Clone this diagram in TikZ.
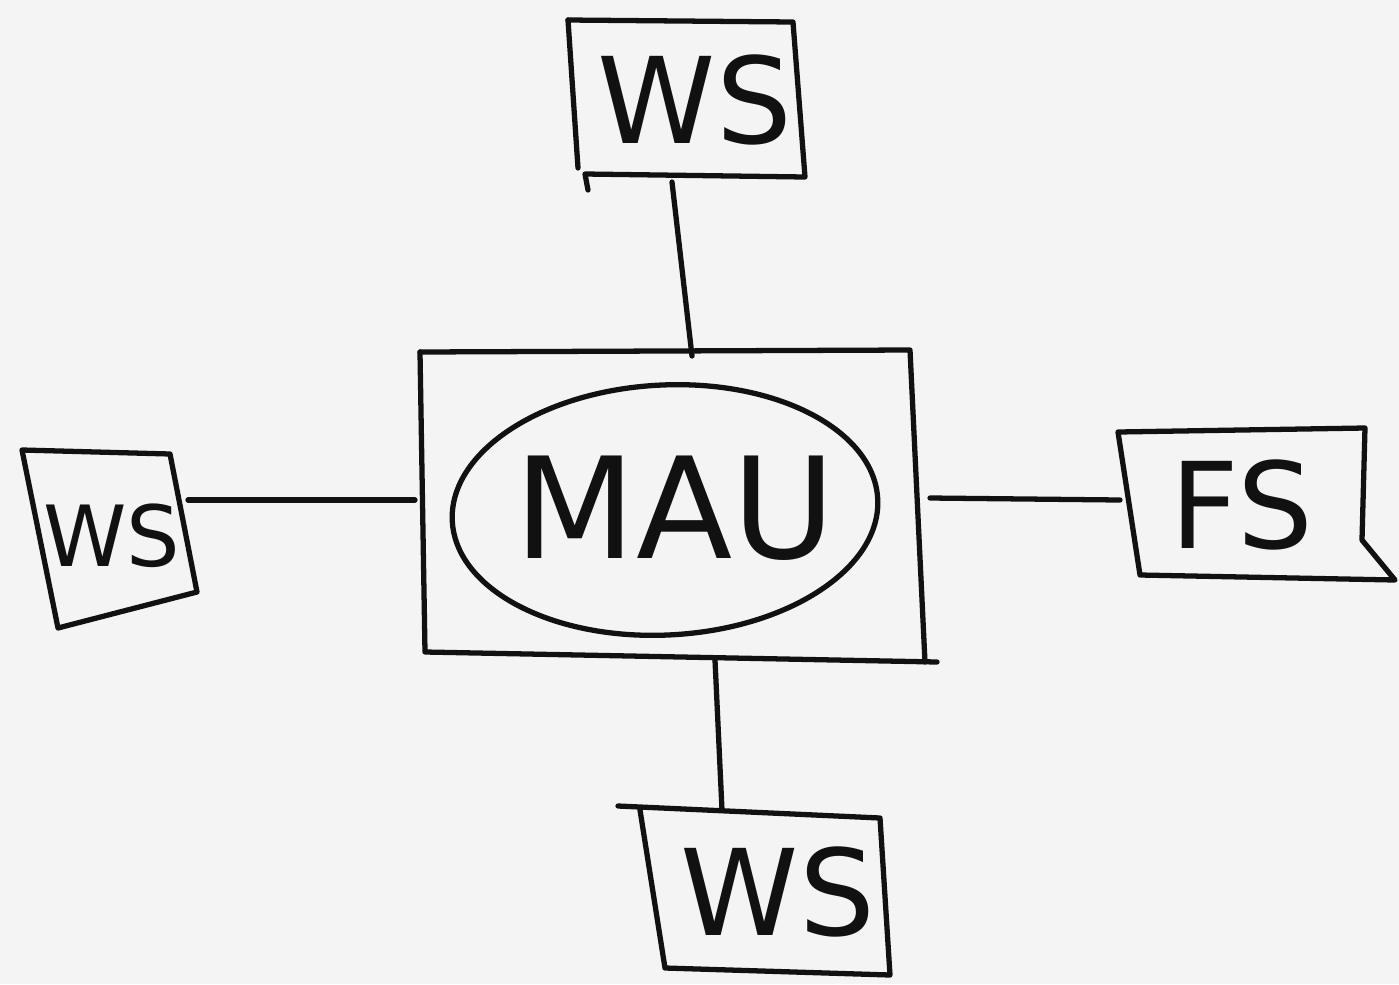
\documentclass[tikz,border=0pt]{standalone}
\usepackage{fontspec}
\setmainfont{DejaVu Sans}
\definecolor{paper}{HTML}{F4F4F4}
\definecolor{ink}{HTML}{111111}
\tikzset{
  pen/.style={draw=ink, line width=1.5pt, line join=round, line cap=round},
  big/.style={font=\fontsize{34}{40}\selectfont, text=ink, inner sep=0pt},
  wire/.style={pen}
}
\begin{document}
\begin{tikzpicture}[x=0.01cm, y=-0.01cm]
  \fill[paper] (0,0) rectangle (1399,984);
  \useasboundingbox (0,0) rectangle (1399,984);

  % top workstation
  \draw[pen] (568,20) -- (793,22) -- (805,177) -- (585,174) -- (588,190);
  \draw[pen] (568,20) -- (578,168);
  \node[big] (wsTop) at (695,100) {WS};

  % multistation access unit
  \draw[pen] (420,352) -- (910,350) -- (925,662);
  \draw[pen] (420,352) -- (425,652) -- (937,662);
  \draw[pen, rotate around={3:(665,510)}] (665,510) ellipse [x radius=213, y radius=125];
  \node[big, font=\fontsize{40}{44}\selectfont] (mau) at (675,508) {MAU};

  % left workstation
  \draw[pen] (22,450) -- (170,454) -- (197,592) -- (58,628) -- cycle;
  \node[big, font=\fontsize{24}{28}\selectfont] (wsLeft) at (112,536) {WS};

  % file server
  \draw[pen] (1118,432) -- (1365,428) -- (1362,540) -- (1395,580) -- (1140,575) -- cycle;
  \node[big] (fs) at (1242,505) {FS};

  % bottom workstation
  \draw[pen] (618,806) -- (880,818) -- (890,975) -- (665,968) -- (640,810);
  \node[big] (wsBot) at (778,892) {WS};

  % attachment points
  \coordinate (topA) at (672,182);
  \coordinate (topB) at (692,356);
  \coordinate (leftA) at (188,500);
  \coordinate (leftB) at (415,500);
  \coordinate (rightA) at (930,498);
  \coordinate (rightB) at (1120,500);
  \coordinate (botA) at (715,660);
  \coordinate (botB) at (722,810);

  \draw[wire] (topA) -- (topB);
  \draw[wire] (leftA) -- (leftB);
  \draw[wire] (rightA) -- (rightB);
  \draw[wire] (botA) -- (botB);
\end{tikzpicture}
\end{document}
